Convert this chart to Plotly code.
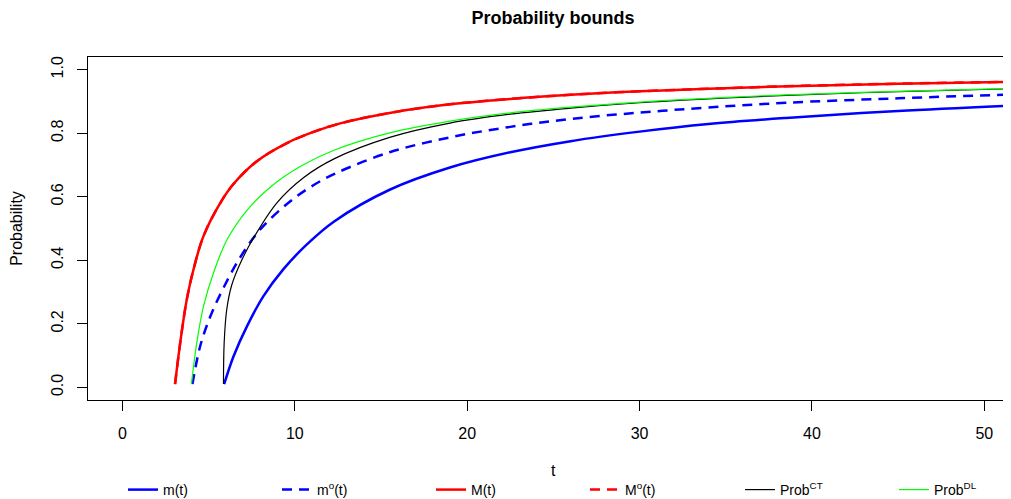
import plotly.graph_objects as go

# ---- data ----
t_m = [5.9, 6.44, 7.22, 8.18, 9.34, 10.7, 12.3, 15.5, 19.0, 22.5, 26.0, 30.0, 34.0, 38.5, 45.0, 51.6]
p_m = [0.01, 0.097, 0.192, 0.287, 0.372, 0.450, 0.523, 0.622, 0.692, 0.740, 0.775, 0.805, 0.829, 0.848, 0.870, 0.887]

t_mo = [4.06, 4.51, 5.09, 5.86, 6.83, 7.99, 9.54, 10.89, 12.3, 15.5, 19.0, 22.5, 26.0, 30.0, 34.0, 38.5, 45.0, 51.6]
p_mo = [0.01, 0.13, 0.222, 0.313, 0.409, 0.497, 0.577, 0.630, 0.672, 0.740, 0.787, 0.820, 0.845, 0.865, 0.881, 0.896, 0.910, 0.922]

t_M = [3.05, 3.35, 3.73, 4.12, 4.70, 5.67, 6.44, 7.80, 9.54, 11.08, 12.63, 15.5, 19.0, 22.5, 26.0, 30.0, 34.0, 39.3, 45.0, 51.6]
p_M = [0.01, 0.14, 0.276, 0.371, 0.476, 0.580, 0.640, 0.712, 0.769, 0.804, 0.831, 0.864, 0.891, 0.908, 0.921, 0.932, 0.940, 0.949, 0.956, 0.962]

t_Mo = t_M
p_Mo = p_M

t_ct = [5.86, 5.90, 6.05, 6.34, 6.83, 7.60, 8.96, 10.50, 12.3, 15.5, 19.0, 22.5, 26.0, 30.0, 34.0, 38.5, 45.0, 51.6]
p_ct = [0.01, 0.14, 0.245, 0.322, 0.390, 0.470, 0.581, 0.660, 0.720, 0.787, 0.832, 0.860, 0.879, 0.896, 0.908, 0.919, 0.931, 0.940]

t_dl = [4.0, 4.31, 4.70, 5.28, 6.05, 7.22, 8.57, 10.31, 12.3, 15.5, 19.0, 22.5, 26.0, 30.0, 34.0, 38.5, 45.0, 51.6]
p_dl = [0.01, 0.14, 0.255, 0.360, 0.463, 0.557, 0.630, 0.695, 0.747, 0.801, 0.838, 0.864, 0.882, 0.898, 0.910, 0.921, 0.932, 0.941]

x_ticks = [0, 10, 20, 30, 40, 50]
y_ticks = [0.0, 0.2, 0.4, 0.6, 0.8, 1.0]
y_tick_text = ["0.0", "0.2", "0.4", "0.6", "0.8", "1.0"]

# The page body adds an 8px offset, so the figure is laid out 8px smaller.
W, H = 1003, 491
ML, MR, MT, MB = 80, 0, 49, 99
legend_x_px = [115, 269, 423, 577, 732, 886]

FONT = "Liberation Sans, Arial, sans-serif"

series = [
    (t_m, p_m, "m(t)", "#0000FF", 2.5, "solid"),
    (t_mo, p_mo, "m<sup>o</sup>(t)", "#0000FF", 2.5, "10px,7px"),
    (t_M, p_M, "M(t)", "#FF0000", 2.5, "solid"),
    (t_Mo, p_Mo, "M<sup>o</sup>(t)", "#FF0000", 2.5, "10px,7px"),
    (t_ct, p_ct, "Prob<sup>CT</sup>", "#000000", 1.2, "solid"),
    (t_dl, p_dl, "Prob<sup>DL</sup>", "#00FF00", 1.2, "solid"),
]

fig = go.Figure()
legend_layouts = {}
for i, (tx, py, name, col, w, dash) in enumerate(series):
    lname = "legend" if i == 0 else f"legend{i + 1}"
    fig.add_trace(go.Scatter(x=tx, y=py, mode="lines", name=name, legend=lname,
                             line=dict(color=col, width=w, dash=dash,
                                       shape="spline", smoothing=1.0)))
    legend_layouts[lname] = dict(
        x=legend_x_px[i] / W, xref="container", xanchor="left",
        y=1 - 482 / H, yref="container", yanchor="middle",
        orientation="h", font=dict(size=14, family=FONT),
        bgcolor="rgba(0,0,0,0)", borderwidth=0)

plot_w = W - ML - MR
plot_h = H - MT - MB

fig.update_layout(
    width=W, height=H,
    margin=dict(l=ML, r=MR, t=MT, b=MB, autoexpand=False),
    paper_bgcolor="white", plot_bgcolor="white",
    font=dict(family=FONT, size=16, color="black"),
    title=dict(text="<b>Probability bounds</b>", font=dict(size=18, family=FONT),
               x=545 / W, xref="container", xanchor="center",
               y=1 - 10 / H, yref="container", yanchor="middle"),
    xaxis=dict(range=[-2, 51.55], tickvals=x_ticks, ticks="outside", ticklen=10,
               tickcolor="black", tickwidth=1, showline=True, linecolor="black",
               linewidth=1, mirror=True, showgrid=False, zeroline=False,
               ticklabelstandoff=9, automargin=False),
    yaxis=dict(range=[-0.04, 1.04], tickvals=y_ticks, ticktext=y_tick_text,
               ticks="outside", ticklen=10, tickcolor="black", tickwidth=1,
               showline=True, linecolor="black", linewidth=1, mirror=False,
               showgrid=False, zeroline=False, tickangle=-90,
               ticklabelstandoff=8, automargin=False,
               title=dict(text="Probability", standoff=26, font=dict(size=16))),
    annotations=[dict(text="t", xref="paper", yref="paper",
                      x=(545 - ML) / plot_w, y=-(462 - (H - MB)) / plot_h,
                      xanchor="center", yanchor="middle", showarrow=False,
                      font=dict(size=16, family=FONT))],
    showlegend=True,
    **legend_layouts,
)

fig.write_html("out.html")
